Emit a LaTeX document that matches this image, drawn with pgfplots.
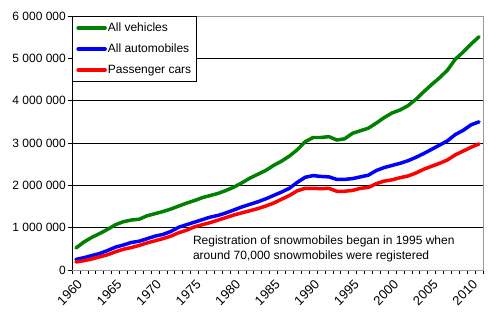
\documentclass[border=0pt]{standalone}
\usepackage{pgfplots}
\usepackage{pgfplotstable}
\pgfplotsset{compat=1.18}
\usepackage{fontspec}
\setmainfont{Liberation Sans}
\definecolor{cgreen}{RGB}{0,128,0}
\definecolor{cblue}{RGB}{0,0,255}
\definecolor{cred}{RGB}{255,0,0}
\pgfplotstableread{
year veh aut car
1960 520000 250000 190000
1961 660000 290000 220000
1962 770000 340000 260000
1963 860000 390000 310000
1964 960000 460000 360000
1965 1070000 540000 430000
1966 1140000 590000 490000
1967 1180000 650000 530000
1968 1200000 680000 580000
1969 1280000 740000 640000
1970 1330000 800000 690000
1971 1380000 840000 740000
1972 1440000 910000 800000
1973 1510000 1010000 880000
1974 1580000 1070000 940000
1975 1640000 1130000 1020000
1976 1710000 1190000 1070000
1977 1760000 1250000 1120000
1978 1810000 1290000 1180000
1979 1880000 1350000 1240000
1980 1960000 1420000 1300000
1981 2060000 1490000 1350000
1982 2170000 1550000 1400000
1983 2260000 1610000 1450000
1984 2350000 1680000 1510000
1985 2470000 1760000 1580000
1986 2570000 1840000 1670000
1987 2690000 1930000 1760000
1988 2840000 2070000 1870000
1989 3030000 2190000 1930000
1990 3130000 2230000 1930000
1991 3130000 2210000 1920000
1992 3150000 2200000 1930000
1993 3070000 2140000 1860000
1994 3100000 2140000 1860000
1995 3230000 2160000 1880000
1996 3290000 2200000 1930000
1997 3350000 2240000 1950000
1998 3470000 2350000 2040000
1999 3600000 2420000 2100000
2000 3710000 2470000 2130000
2001 3780000 2520000 2180000
2002 3880000 2580000 2220000
2003 4030000 2660000 2290000
2004 4210000 2750000 2380000
2005 4380000 2850000 2450000
2006 4540000 2950000 2520000
2007 4720000 3050000 2600000
2008 4980000 3200000 2720000
2009 5150000 3300000 2810000
2010 5340000 3430000 2900000
2011 5510000 3500000 2980000
}\datatable
\begin{document}
\begin{tikzpicture}
\begin{axis}[
  at={(0,0)}, anchor=south west,
  scale only axis, width=411bp, height=254bp,
  xmin=1959.5, xmax=2011.5,
  ymin=0, ymax=6000000,
  font=\fontsize{12bp}{14bp}\selectfont,
  axis line style={draw=gray!80},
  xtick={1960,1965,...,2010},
  xticklabels={1960,1965,1970,1975,1980,1985,1990,1995,2000,2005,2010},
  minor xtick={1959.5,1960.5,...,2011.5},
  major x tick style={draw=none},
  minor x tick style={black, line width=0.6pt},
  minor tick length=4bp,
  xtick pos=bottom, ytick pos=left,
  tick align=outside,
  ytick={0,1000000,2000000,3000000,4000000,5000000,6000000},
  yticklabels={0,1 000 000,2 000 000,3 000 000,4 000 000,5 000 000,6 000 000},
  major y tick style={black, line width=0.6pt},
  major tick length=4bp,
  scaled y ticks=false,
  ymajorgrids,
  grid style={black, line width=0.6pt},
  xticklabel style={rotate=45, anchor=north east, inner sep=1pt, yshift=-3bp, xshift=-2bp,
    font=\fontsize{13bp}{15bp}\selectfont},
  yticklabel style={inner sep=2bp},
  legend style={at={(rel axis cs:0,1)}, anchor=north west, draw=black, line width=0.8pt,
    font=\fontsize{12bp}{14bp}\selectfont, row sep=9bp, inner xsep=4bp, inner ysep=5.5bp,
    nodes={inner sep=1bp}, /tikz/every even column/.style={column sep=1.5bp}},
  legend cell align=left,
  legend image code/.code={\draw[#1, line width=3.5pt, line cap=round] (0bp,0bp) -- (27bp,0bp);},
  every axis plot/.append style={line width=3.5pt, line join=round, line cap=round},
]
\addplot[cgreen] table[x=year, y=veh] {\datatable};
\addlegendentry{All vehicles}
\addplot[cblue] table[x=year, y=aut] {\datatable};
\addlegendentry{All automobiles}
\addplot[cred] table[x=year, y=car] {\datatable};
\addlegendentry{Passenger cars}
\draw[black, line width=0.8pt] (rel axis cs:0,1) -- (rel axis cs:0,0) -- (rel axis cs:1,0);
\node[anchor=west, align=left, inner sep=0pt, font=\fontsize{12bp}{15bp}\selectfont] at (rel axis cs:0.294,0.085) {Registration of snowmobiles began in 1995 when\\around 70,000 snowmobiles were registered};
\end{axis}
\pgfresetboundingbox
\path (-72bp,-52bp) rectangle (426bp,270bp);
\end{tikzpicture}
\end{document}
